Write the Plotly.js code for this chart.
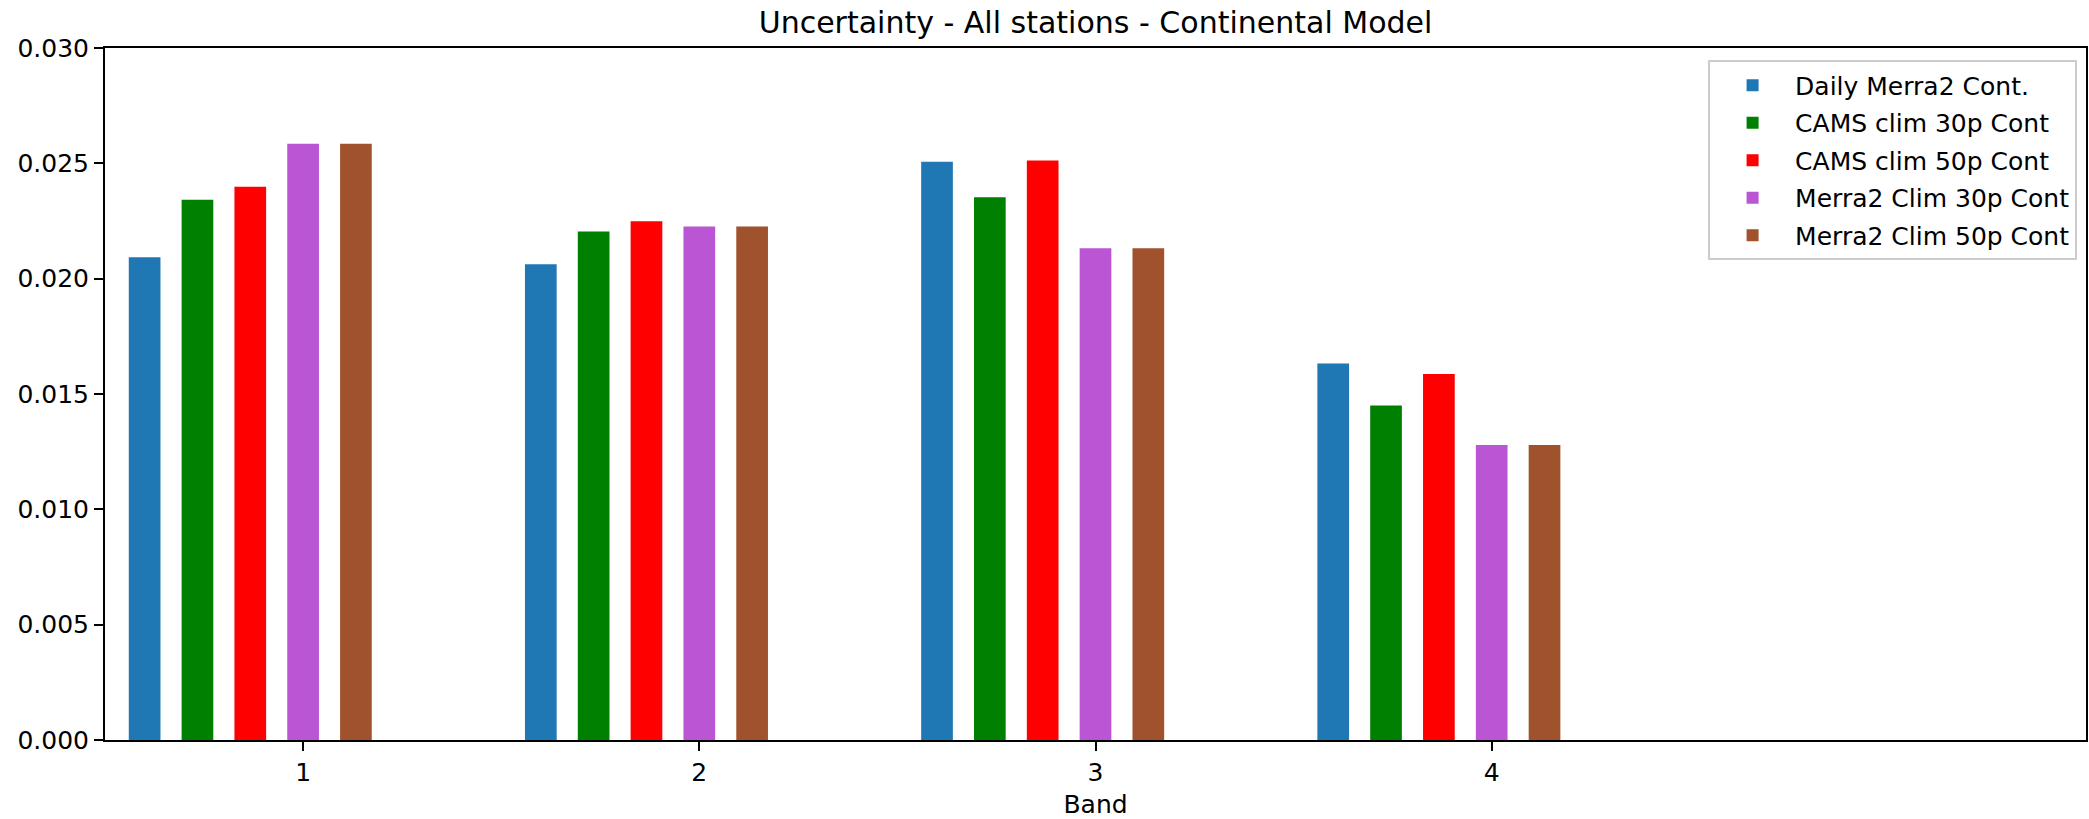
<!DOCTYPE html>
<html>
<head>
<meta charset="utf-8">
<script src="https://cdn.plot.ly/plotly-3.0.1.min.js"></script>
<style>html,body{margin:0;padding:0;background:#fff;}#chart{width:2089px;height:819px;}</style>
</head>
<body>
<div id="chart"></div>
<script>
// Data
const bands = [1, 2, 3, 4];
const tickLabels = ["1", "2", "3", "4"];
const seriesNames = ["Daily Merra2 Cont.", "CAMS clim 30p Cont", "CAMS clim 50p Cont", "Merra2 Clim 30p Cont", "Merra2 Clim 50p Cont"];
const dailyMerra2Cont = [0.02093, 0.02063, 0.02507, 0.01632];
const camsClim30pCont = [0.02342, 0.02204, 0.02353, 0.01450];
const camsClim50pCont = [0.02399, 0.02249, 0.02512, 0.01587];
const merra2Clim30pCont = [0.02585, 0.02226, 0.02132, 0.01279];
const merra2Clim50pCont = [0.02585, 0.02226, 0.02132, 0.01279];

// Styling
const colors = ["#1f77b4", "#008000", "#ff0000", "#ba55d3", "#a0522d"];
const barWidth = 0.08;
const step = 0.4 / 3;
const centerShift = [-3, -2, -1, 0, 1];
const seriesValues = [dailyMerra2Cont, camsClim30pCont, camsClim50pCont, merra2Clim30pCont, merra2Clim50pCont];

const font = "DejaVu Sans, sans-serif";
const traces = seriesValues.map((vals, i) => ({
  type: "bar",
  name: seriesNames[i],
  legendgroup: "g" + i,
  x: bands,
  y: vals,
  width: barWidth,
  offset: centerShift[i] * step - barWidth / 2,
  marker: {color: colors[i], line: {width: 0}}
}));

const layout = {
  width: 2089,
  height: 819,
  paper_bgcolor: "#ffffff",
  plot_bgcolor: "#ffffff",
  barmode: "overlay",
  margin: {l: 105, r: 3, t: 48, b: 79, pad: 0},
  font: {family: font, size: 25, color: "#000"},
  title: {
    text: "Uncertainty - All stations - Continental Model",
    font: {family: font, size: 30, color: "#000"},
    x: 0.5, xref: "paper", xanchor: "center",
    y: 1 - 22 / 819, yref: "container", yanchor: "middle"
  },
  xaxis: {
    range: [0.5, 5.5],
    tickmode: "array",
    tickvals: bands,
    ticktext: tickLabels,
    ticks: "outside", ticklen: 9, tickwidth: 2, tickcolor: "#000",
    showline: true, linecolor: "#000", linewidth: 2, mirror: true,
    showgrid: false, zeroline: false,
    tickfont: {family: font, size: 25, color: "#000"},
    title: {text: "Band", font: {family: font, size: 25, color: "#000"}, standoff: 10}
  },
  yaxis: {
    range: [0, 0.030],
    tick0: 0, dtick: 0.005,
    tickformat: ".3f",
    ticks: "outside", ticklen: 9, tickwidth: 2, tickcolor: "#000",
    showline: true, linecolor: "#000", linewidth: 2, mirror: true,
    showgrid: false, zeroline: false,
    tickfont: {family: font, size: 25, color: "#000"}
  },
  legend: {
    x: 0.9955, xanchor: "right",
    y: 0.982, yanchor: "top",
    bgcolor: "rgba(255,255,255,0.8)",
    bordercolor: "#cccccc", borderwidth: 2,
    font: {family: font, size: 25, color: "#000"},
    itemwidth: 75,
    tracegroupgap: 2,
    traceorder: "grouped"
  },
  showlegend: true
};

Plotly.newPlot("chart", traces, layout, {displayModeBar: false, staticPlot: true});
</script>
</body>
</html>
